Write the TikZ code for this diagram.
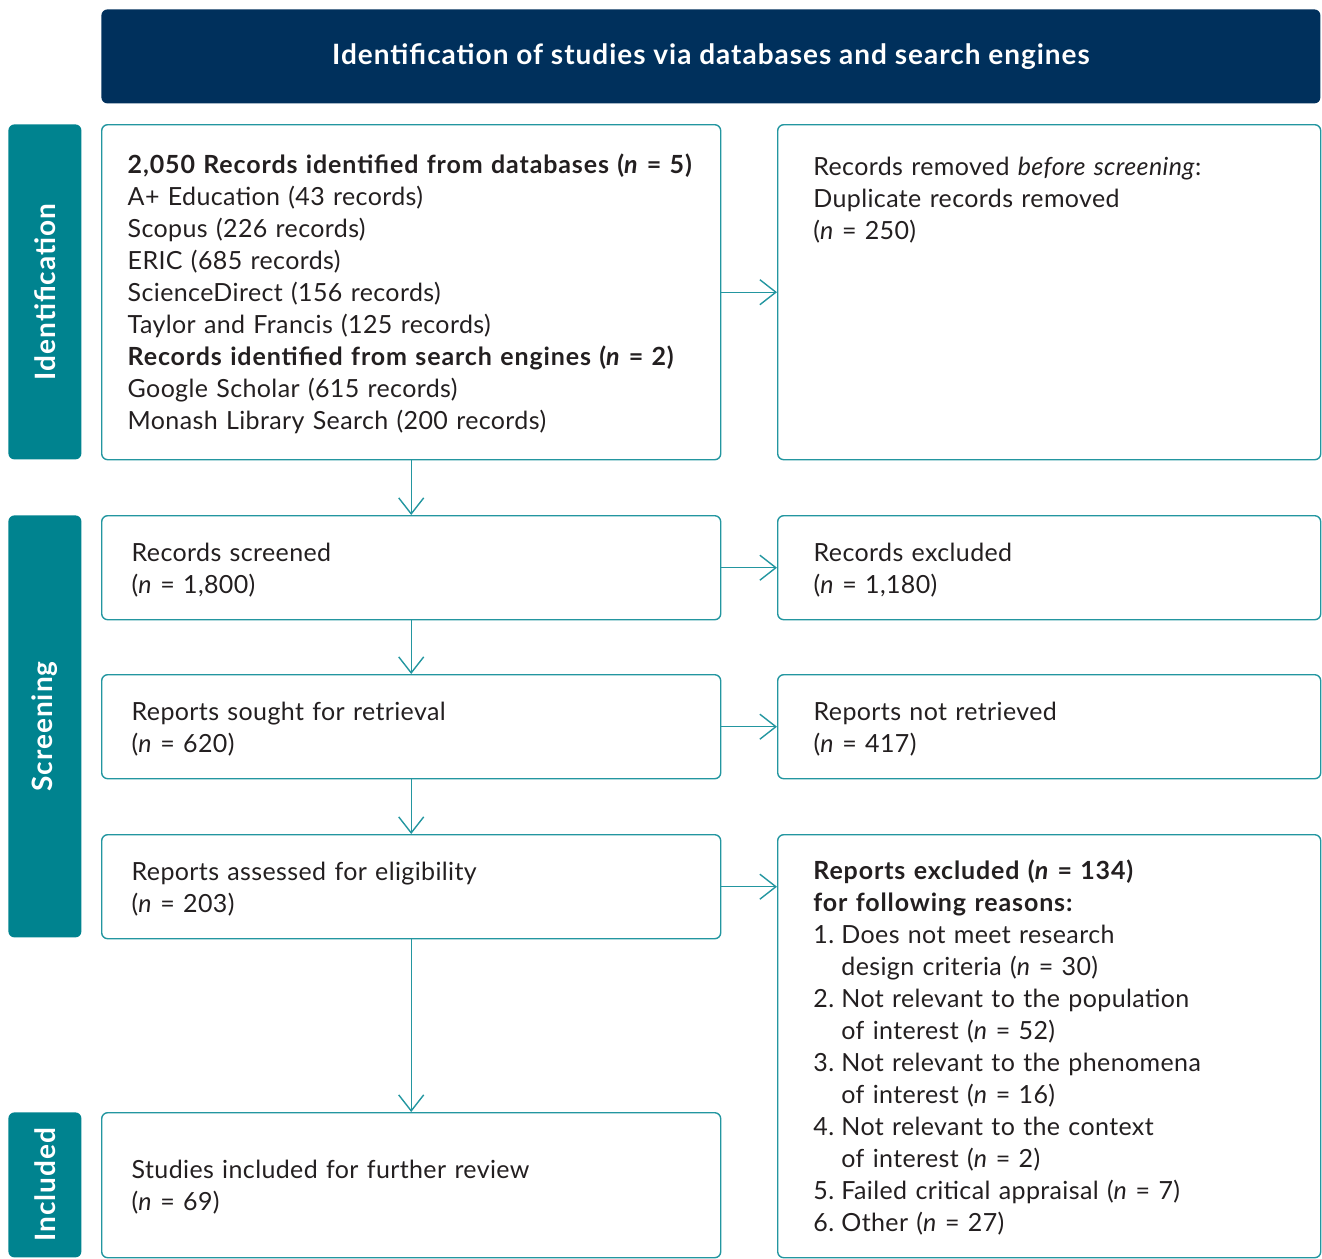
\documentclass[tikz,border=0pt]{standalone}
\usepackage{fontspec}
\setmainfont{Lato}[LetterSpace=1.5, BoldFeatures={LetterSpace=3.5}, BoldItalicFeatures={LetterSpace=3.5}]
\usetikzlibrary{positioning,arrows.meta}

\definecolor{headnavy}{HTML}{00305C}
\definecolor{stageteal}{HTML}{00838F}
\definecolor{boxline}{HTML}{2396A0}
\definecolor{ink}{HTML}{231F20}

\newcommand{\nn}{\textit{n}}
\newcommand{\itemno}[1]{\makebox[14pt][l]{#1}}

\tikzset{
  box/.style={draw=boxline, line width=0.7pt, rounded corners=3pt, anchor=north west,
    inner ysep=0pt, text=ink, align=left, font=\fontsize{12.5}{16}\selectfont,
    execute at begin node=\rule{0pt}{11.5pt}},
  leftbox/.style={box, minimum width=309.5pt, minimum height=52pt, inner xsep=15pt, text width=279.5pt},
  rightbox/.style={box, minimum width=271.5pt, minimum height=52pt, inner xsep=18pt, text width=235.5pt},
  boxtext/.style={anchor=base west, inner sep=0pt, text=ink, align=left, text width=240pt,
    font=\fontsize{12.5}{16}\selectfont},
  stagebar/.style={fill=stageteal, rounded corners=3pt, anchor=north west, minimum width=36.5pt, inner sep=0pt},
  stagelabel/.style={rotate=90, text=white, font=\bfseries\fontsize{14}{16}\selectfont},
}

\begin{document}
\begin{tikzpicture}[x=0.5pt, y=-0.5pt, >={Straight Barb[length=8pt,width=12.5pt]}]

\useasboundingbox (0,0) rectangle (1322,1258);
\clip (0,0) rectangle (1322,1258);

% header
\node[fill=headnavy, rounded corners=3pt, anchor=north west, minimum width=609.5pt, minimum height=47pt,
  text=white, font=\bfseries\fontsize{14}{16}\selectfont] (title) at (101,9)
  {Identification of studies via databases and search engines};

% stages
\node[stagebar, minimum height=167.5pt] (identbar) at (8,124) {};
\node[stagelabel] (identlabel) at (identbar.center) {Identification};
\node[stagebar, minimum height=211pt] (screenbar) at (8,515) {};
\node[stagelabel] (screenlabel) at (screenbar.center) {Screening};
\node[stagebar, minimum height=72.5pt] (inclbar) at (8,1112) {};
\node[stagelabel] (incllabel) at (inclbar.center) {Included};

% identification
\node[leftbox, minimum height=167.5pt, inner xsep=13pt, text width=283.5pt] (records) at (101,124)
  {\textbf{2,050 Records identified from databases (\nn{} = 5)}\\
   A+ Education (43 records)\\
   Scopus (226 records)\\
   ERIC (685 records)\\
   ScienceDirect (156 records)\\
   Taylor and Francis (125 records)\\
   \textbf{Records identified from search engines (\nn{} = 2)}\\
   Google Scholar (615 records)\\
   Monash Library Search (200 records)};
\node[rightbox, minimum height=167.5pt] (removed) at (777,124) {};
\node[boxtext] (removedtxt) at (813,175)
  {Records removed \textit{before screening}:\\
   Duplicate records removed\\
   (\nn{} = 250)};

% screening
\node[leftbox] (screened) at (101,515) {Records screened\\(\nn{} = 1,800)};
\node[rightbox] (excluded) at (777,515) {Records excluded\\(\nn{} = 1,180)};
\node[leftbox] (sought) at (101,674) {Reports sought for retrieval\\(\nn{} = 620)};
\node[rightbox] (notretrieved) at (777,674) {Reports not retrieved\\(\nn{} = 417)};
\node[leftbox] (assessed) at (101,834) {Reports assessed for eligibility\\(\nn{} = 203)};
\node[rightbox, minimum height=211.5pt] (reasons) at (777,834) {};
\node[boxtext] (reasonstxt) at (813,879)
  {\textbf{Reports excluded (\nn{} = 134)}\\
   \textbf{for following reasons:}\\
   \itemno{1.}Does not meet research\\
   \itemno{}design criteria (\nn{} = 30)\\
   \itemno{2.}Not relevant to the population\\
   \itemno{}of interest (\nn{} = 52)\\
   \itemno{3.}Not relevant to the phenomena\\
   \itemno{}of interest (\nn{} = 16)\\
   \itemno{4.}Not relevant to the context\\
   \itemno{}of interest (\nn{} = 2)\\
   \itemno{5.}Failed critical appraisal (\nn{} = 7)\\
   \itemno{6.}Other (\nn{} = 27)};

% included
\node[leftbox, minimum height=72.5pt] (included) at (101,1112) {Studies included for further review\\(\nn{} = 69)};

% arrows
\draw[->, boxline, line width=0.7pt] (records) -- (removed);
\draw[->, boxline, line width=0.7pt] (screened) -- (excluded);
\draw[->, boxline, line width=0.7pt] (sought) -- (notretrieved);
\draw[->, boxline, line width=0.7pt] (assessed.east) -- (assessed.east -| reasons.west);
\draw[->, boxline, line width=0.7pt] (records) -- (screened);
\draw[->, boxline, line width=0.7pt] (screened) -- (sought);
\draw[->, boxline, line width=0.7pt] (sought) -- (assessed);
\draw[->, boxline, line width=0.7pt] (assessed) -- (included);

\end{tikzpicture}
\end{document}
